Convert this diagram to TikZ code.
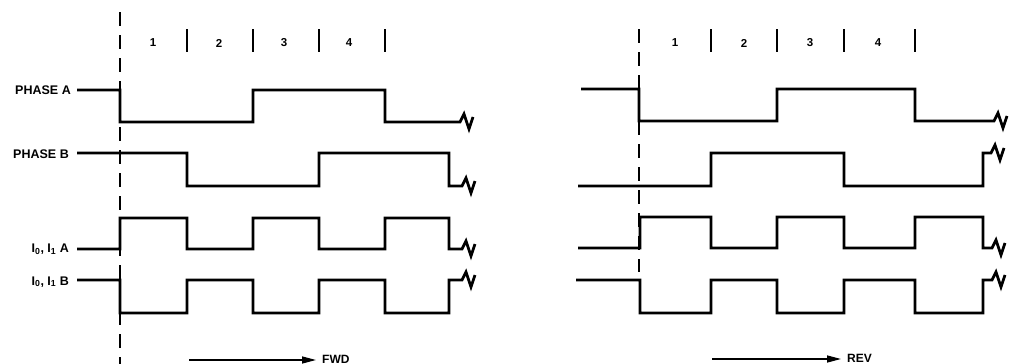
\documentclass[tikz,border=0pt]{standalone}
\usepackage{fontspec}
\setmainfont{Liberation Sans}
\usetikzlibrary{arrows.meta}
\begin{document}
\begin{tikzpicture}[x=1pt,y=-1pt,
  wave/.style={line width=2.8pt,line join=miter,line cap=butt},
  tickmark/.style={line width=1.9pt},
  guide/.style={line width=1.6pt,dash pattern=on 14pt off 9pt},
  lbl/.style={font=\bfseries\fontsize{12.5}{12.5}\selectfont,inner sep=0pt},
  num/.style={font=\bfseries\fontsize{11.5}{11.5}\selectfont,inner sep=0pt},
  dirarrow/.style={line width=1.4pt,shorten >=6pt,-{Triangle[length=14pt,width=7pt]}}]
\useasboundingbox (0,0) rectangle (1015,364);
% ---------------- left (FWD) ----------------
\draw[guide] (120,12) -- (120,364);
\foreach \x in {187,253,319,385} \draw[tickmark] (\x,29) -- (\x,52);
\node[num] (n1) at (153,43) {1};
\node[num] (n2) at (219,43) {2};
\node[num] (n3) at (284,43) {3};
\node[num] (n4) at (349,43) {4};
\node[lbl,anchor=east] (pa) at (71,90.5) {PHASE A};
\node[lbl,anchor=east] (pb) at (69,154) {PHASE B};
\node[lbl,anchor=base east] (ia) at (69,252.5) {I\textsubscript{0}, I\textsubscript{1} A};
\node[lbl,anchor=base east] (ib) at (69,285) {I\textsubscript{0}, I\textsubscript{1} B};
\draw[wave] (77,90) -- (120,90) -- (120,122) -- (253,122) -- (253,90) -- (385,90) -- (385,122) -- (460,122)
  -- ++(4,-8) -- ++(5,15) -- ++(4,-12);
\draw[wave] (77,153) -- (187,153) -- (187,186) -- (319,186) -- (319,153) -- (449,153) -- (449,186) -- (462,186)
  -- ++(4,-8) -- ++(5,15) -- ++(4,-12);
\draw[wave] (77,249) -- (120,249) -- (120,218) -- (187,218) -- (187,249) -- (253,249) -- (253,218) -- (319,218) -- (319,249) -- (385,249) -- (385,218) -- (449,218) -- (449,249) -- (462,249)
  -- ++(4,-8) -- ++(5,15) -- ++(4,-12);
\draw[wave] (77,280) -- (120,280) -- (120,313) -- (187,313) -- (187,280) -- (253,280) -- (253,313) -- (319,313) -- (319,280) -- (385,280) -- (385,313) -- (449,313) -- (449,280) -- (462,280)
  -- ++(4,-8) -- ++(5,15) -- ++(4,-12);
\coordinate (fs) at (189,360);
\node[lbl,anchor=west,font=\bfseries\fontsize{12}{12}\selectfont] (fwd) at (322,359) {FWD};
\draw[dirarrow] (fs) -- (fs -| fwd.west);
% ---------------- right (REV) ----------------
\draw[guide] (639,29) -- (639,272);
\foreach \x in {711,777,844,915} \draw[tickmark] (\x,29) -- (\x,52);
\node[num] (m1) at (675,43) {1};
\node[num] (m2) at (744,43) {2};
\node[num] (m3) at (810,43) {3};
\node[num] (m4) at (878,43) {4};
\draw[wave] (581,89) -- (639,89) -- (639,121) -- (777,121) -- (777,89) -- (915,89) -- (915,121) -- (994,121)
  -- ++(4,-8) -- ++(5,15) -- ++(4,-12);
\draw[wave] (578,186) -- (711,186) -- (711,153) -- (844,153) -- (844,186) -- (983,186) -- (983,153) -- (991,153)
  -- ++(4,-8) -- ++(5,15) -- ++(4,-12);
\draw[wave] (578,248) -- (640,248) -- (640,217) -- (711,217) -- (711,248) -- (777,248) -- (777,217) -- (844,217) -- (844,248) -- (915,248) -- (915,217) -- (983,217) -- (983,248) -- (992,248)
  -- ++(4,-8) -- ++(5,15) -- ++(4,-12);
\draw[wave] (576,280) -- (640,280) -- (640,313) -- (711,313) -- (711,280) -- (777,280) -- (777,313) -- (844,313) -- (844,280) -- (915,280) -- (915,313) -- (983,313) -- (983,280) -- (992,280)
  -- ++(4,-8) -- ++(5,15) -- ++(4,-12);
\coordinate (rs) at (712,359);
\node[lbl,anchor=west,font=\bfseries\fontsize{12}{12}\selectfont] (rev) at (847,358) {REV};
\draw[dirarrow] (rs) -- (rs -| rev.west);
\end{tikzpicture}
\end{document}
